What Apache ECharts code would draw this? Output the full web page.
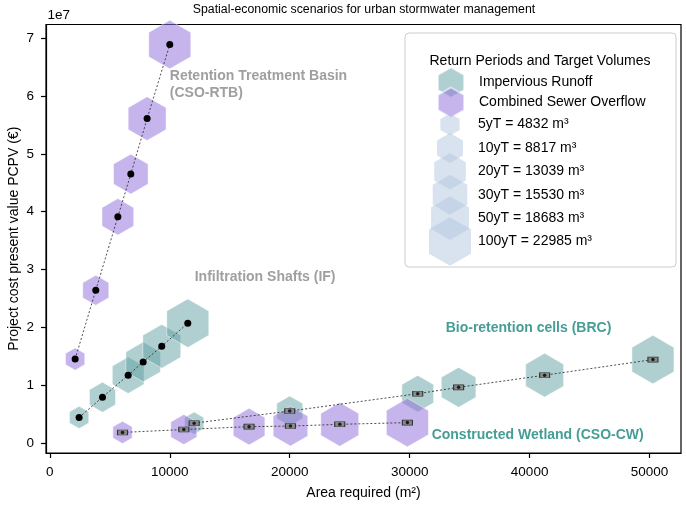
<!DOCTYPE html>
<html><head><meta charset="utf-8">
<script src="https://cdn.jsdelivr.net/npm/echarts@6/dist/echarts.min.js"></script>
<style>html,body{margin:0;padding:0;background:#fff}#c{width:686px;height:508px}</style>
</head><body><div id="c"></div>
<script>
// ---- data ----
const returnPeriods = ['5yT', '10yT', '20yT', '30yT', '50yT', '100yT'];
const targetVolumes = [4832, 8817, 13039, 15530, 18683, 22985];

// Retention Treatment Basin (CSO-RTB)
const rtbArea = [2110, 3830, 5670, 6750, 8110, 10000];
const rtbCost = [1.45e7, 2.64e7, 3.91e7, 4.65e7, 5.61e7, 6.89e7];
// Infiltration Shafts (IF)
const ifArea = [2440, 4390, 6530, 7780, 9330, 11500];
const ifCost = [0.44e7, 0.79e7, 1.17e7, 1.40e7, 1.67e7, 2.07e7];
// Bio-retention cells (BRC)
const brcArea = [12030, 20000, 30670, 34080, 41250, 50280];
const brcCost = [0.34e7, 0.55e7, 0.85e7, 0.96e7, 1.17e7, 1.44e7];
// Constructed Wetland (CSO-CW)
const cwArea = [6060, 11170, 16610, 20060, 24170, 29810];
const cwCost = [0.18e7, 0.23e7, 0.28e7, 0.29e7, 0.32e7, 0.35e7];

const xTicks = [0, 10000, 20000, 30000, 40000, 50000];
const yTicks = [0, 1e7, 2e7, 3e7, 4e7, 5e7, 6e7, 7e7];

const annotationTexts = ['Retention Treatment Basin\n(CSO-RTB)', 'Infiltration Shafts (IF)', 'Bio-retention cells (BRC)', 'Constructed Wetland (CSO-CW)'];
const annotationArea = [10000, 12080, 33000, 31830];
const annotationCost = [6.20e7, 2.87e7, 1.985e7, 0.133e7];

// ---- styles ----
const FONT = 'Liberation Sans, Arial, Helvetica, sans-serif';
const HEX = 'path://M0,-1L0.866,-0.5L0.866,0.5L0,1L-0.866,0.5L-0.866,-0.5Z';
const TEAL = 'rgba(95,158,160,0.62)';
const PURPLE = 'rgba(147,112,219,0.66)';
const SIZECOL = 'rgba(176,196,222,0.6)';
const annColors = ['#878787', '#878787', '#17847a', '#17847a'];
const K = 0.32;
const hexH = v => K * Math.sqrt(v);

const pts = (xs, ys) => xs.map((x, i) => [x, ys[i], targetVolumes[i]]);
const xy = (xs, ys) => xs.map((x, i) => [x, ys[i]]);

const hexSize = val => { const h = hexH(val[2]); return [h * 0.866, h]; };

const sizeNames = returnPeriods.map((p, i) => p + ' = ' + targetVolumes[i] + ' m³');

const lineStyle = { color: '#222', width: 0.8, type: [2, 2] };

const series = [
  { name: 'Impervious Runoff', type: 'scatter', symbol: HEX, symbolSize: hexSize, clip: false, z: 2,
    itemStyle: { color: TEAL, borderColor: 'rgba(255,255,255,0.7)', borderWidth: 0.8 },
    data: pts(ifArea, ifCost).concat(pts(brcArea, brcCost)) },
  { name: 'Combined Sewer Overflow', type: 'scatter', symbol: HEX, symbolSize: hexSize, clip: false, z: 2,
    itemStyle: { color: PURPLE, borderColor: 'rgba(255,255,255,0.7)', borderWidth: 0.8 },
    data: pts(rtbArea, rtbCost).concat(pts(cwArea, cwCost)) },
  { name: 'RTB', type: 'line', z: 3, symbol: 'circle', symbolSize: 7, showSymbol: true,
    itemStyle: { color: '#000' }, lineStyle: lineStyle, data: xy(rtbArea, rtbCost) },
  { name: 'IF', type: 'line', z: 3, symbol: 'circle', symbolSize: 7, showSymbol: true,
    itemStyle: { color: '#000' }, lineStyle: lineStyle, data: xy(ifArea, ifCost) },
  { name: 'BRC', type: 'line', z: 3, symbol: 'rect', symbolSize: [10, 5], showSymbol: true,
    itemStyle: { color: '#8a8a8a', borderColor: '#333', borderWidth: 0.8 }, lineStyle: lineStyle, data: xy(brcArea, brcCost) },
  { name: 'CW', type: 'line', z: 3, symbol: 'rect', symbolSize: [10, 5], showSymbol: true,
    itemStyle: { color: '#8a8a8a', borderColor: '#333', borderWidth: 0.8 }, lineStyle: lineStyle, data: xy(cwArea, cwCost) },
  { name: 'BRCdot', type: 'scatter', z: 4, symbol: 'circle', symbolSize: 3.5, itemStyle: { color: '#000' }, data: xy(brcArea, brcCost) },
  { name: 'CWdot', type: 'scatter', z: 4, symbol: 'circle', symbolSize: 3.5, itemStyle: { color: '#000' }, data: xy(cwArea, cwCost) },
  { name: 'annotations', type: 'scatter', z: 5, symbolSize: 0, silent: true,
    data: annotationTexts.map((t, i) => ({
      value: [annotationArea[i], annotationCost[i]],
      label: { show: true, position: 'right', distance: 0, formatter: t, align: 'left',
        color: annColors[i], fontWeight: 'bold', fontSize: 14, lineHeight: 17, fontFamily: FONT }
    })) }
].concat(sizeNames.map(n => ({ name: n, type: 'scatter', data: [], itemStyle: { color: SIZECOL } })));

// legend layout (one legend component per entry so each icon can have its own size)
const legendNames = ['Impervious Runoff', 'Combined Sewer Overflow'].concat(sizeNames);
const legendCentres = [81.5, 101.5].concat(sizeNames.map((n, j) => 124.5 + j * 23.4));
const legendHeights = [30, 30].concat(targetVolumes.map(hexH));
const legends = legendNames.map((n, i) => ({
  data: [n], left: 450 - legendHeights[i] * 0.866 / 2, top: legendCentres[i] - legendHeights[i] / 2, padding: 0,
  itemWidth: 46, itemHeight: legendHeights[i], icon: HEX, selectedMode: false,
  textStyle: { fontSize: 14, color: '#000', fontFamily: FONT }, z: 6
}));

const chart = echarts.init(document.getElementById('c'), null, { renderer: 'canvas' });
chart.setOption({
  animation: false,
  textStyle: { fontFamily: FONT },
  grid: { left: 46, right: 5, top: 24.5, bottom: 55, show: true, borderColor: '#000', borderWidth: 1.2,
    containLabel: false, outerBoundsMode: 'none' },
  xAxis: {
    type: 'value', min: -320, max: 52620,
    axisLine: { show: true, onZero: false, lineStyle: { color: '#000', width: 1.2 } },
    axisTick: { show: true, length: 5, customValues: xTicks, lineStyle: { color: '#000', width: 1.2 } },
    axisLabel: { customValues: xTicks, margin: 12, fontSize: 13.5, color: '#000', fontFamily: FONT,
      formatter: v => String(v) },
    splitLine: { show: false },
    name: 'Area required (m²)', nameLocation: 'middle', nameGap: 33, nameMoveOverlap: false,
    nameTextStyle: { fontSize: 14, color: '#000', fontFamily: FONT }
  },
  yAxis: {
    type: 'value', min: -1.76e6, max: 7.238e7,
    axisLine: { show: true, onZero: false, lineStyle: { color: '#000', width: 1.2 } },
    axisTick: { show: true, length: 5, customValues: yTicks, lineStyle: { color: '#000', width: 1.2 } },
    axisLabel: { customValues: yTicks, margin: 12, fontSize: 13.5, color: '#000', fontFamily: FONT,
      formatter: v => String(Math.round(v / 1e7)) },
    splitLine: { show: false },
    name: 'Project cost present value PCPV (€)', nameLocation: 'middle', nameGap: 25, nameMoveOverlap: false,
    nameTextStyle: { fontSize: 14, color: '#000', fontFamily: FONT }
  },
  legend: legends,
  graphic: [
    { type: 'text', x: 364, y: 10, z: 10, style: { text: 'Spatial-economic scenarios for urban stormwater management',
      align: 'center', verticalAlign: 'middle', fontSize: 12.3, fill: '#000', fontFamily: FONT } },
    { type: 'text', x: 47.5, y: 15, z: 10, style: { text: '1e7', align: 'left', verticalAlign: 'middle',
      fontSize: 13.5, fill: '#000', fontFamily: FONT } },
    { type: 'rect', z: 3, shape: { x: 405, y: 33, width: 271, height: 234, r: 4 },
      style: { fill: 'rgba(255,255,255,0.85)', stroke: '#cccccc', lineWidth: 1 } },
    { type: 'text', x: 540, y: 61, z: 10, style: { text: 'Return Periods and Target Volumes',
      align: 'center', verticalAlign: 'middle', fontSize: 14, fill: '#000', fontFamily: FONT } }
  ],
  series: series
});
</script></body></html>
